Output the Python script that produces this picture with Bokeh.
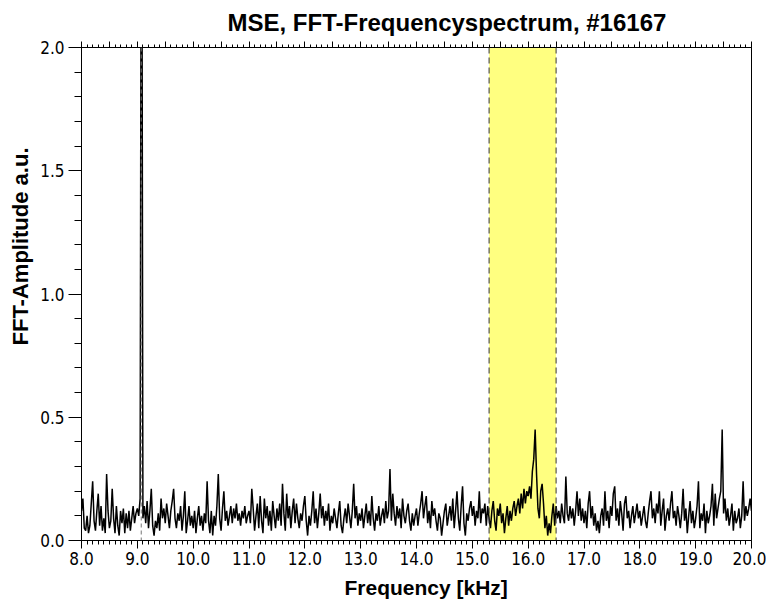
from bokeh.plotting import figure
from bokeh.models import (Range1d, LinearAxis, BoxAnnotation, Span, Title,
                          SingleIntervalTicker, ColumnDataSource)
from bokeh.embed import file_html
from bokeh.resources import INLINE
import numpy as np

# FFT amplitude, one row per kHz (bins of 0.025 kHz); the 9.07 kHz line is off-scale
amp_08 = [0.12,0.17,0.05,0.04,0.10,0.03,0.06,0.15,0.24,0.08,0.04,0.12,0.19,0.06,0.14,0.04,0.09,0.03,0.27,0.12,
          0.05,0.08,0.21,0.09,0.03,0.14,0.06,0.02,0.12,0.07,0.13,0.03,0.11,0.05,0.12,0.04,0.09,0.14,0.07,0.11]
amp_09 = [0.13,0.10,0.17,3.50,0.09,0.14,0.07,0.16,0.05,0.12,0.21,0.06,0.02,0.08,0.05,0.11,0.04,0.17,0.09,0.13,
          0.07,0.15,0.10,0.05,0.12,0.16,0.21,0.09,0.05,0.11,0.08,0.14,0.04,0.10,0.20,0.03,0.08,0.14,0.06,0.10]
amp_10 = [0.05,0.12,0.03,0.09,0.14,0.06,0.10,0.04,0.11,0.07,0.24,0.08,0.03,0.12,0.02,0.10,0.06,0.14,0.27,0.09,
          0.04,0.13,0.20,0.08,0.12,0.06,0.10,0.14,0.07,0.13,0.09,0.15,0.08,0.11,0.06,0.12,0.09,0.14,0.07,0.10]
amp_11 = [0.12,0.07,0.21,0.13,0.04,0.10,0.15,0.05,0.18,0.08,0.03,0.17,0.09,0.14,0.06,0.12,0.04,0.16,0.10,0.05,
          0.13,0.08,0.15,0.06,0.23,0.11,0.04,0.19,0.09,0.14,0.05,0.12,0.17,0.07,0.15,0.09,0.05,0.11,0.08,0.14]
amp_12 = [0.18,0.08,0.02,0.10,0.06,0.12,0.20,0.07,0.13,0.05,0.11,0.19,0.09,0.14,0.06,0.12,0.08,0.15,0.04,0.10,
          0.07,0.13,0.09,0.05,0.11,0.16,0.06,0.03,0.09,0.13,0.07,0.15,0.10,0.05,0.12,0.23,0.09,0.14,0.06,0.11]
amp_13 = [0.08,0.13,0.05,0.10,0.15,0.07,0.12,0.06,0.18,0.09,0.04,0.11,0.08,0.14,0.06,0.10,0.13,0.07,0.16,0.09,
          0.12,0.29,0.08,0.19,0.11,0.06,0.14,0.09,0.13,0.05,0.17,0.10,0.07,0.12,0.15,0.08,0.04,0.11,0.06,0.10]
amp_14 = [0.13,0.06,0.11,0.15,0.20,0.09,0.14,0.18,0.07,0.12,0.05,0.16,0.10,0.13,0.08,0.04,0.11,0.09,0.02,0.07,
          0.12,0.15,0.06,0.10,0.14,0.08,0.17,0.05,0.12,0.20,0.09,0.04,0.14,0.22,0.07,0.02,0.11,0.08,0.13,0.16]
amp_15 = [0.10,0.14,0.06,0.12,0.09,0.20,0.07,0.13,0.11,0.15,0.06,0.14,0.09,0.05,0.12,0.16,0.08,0.04,0.13,0.10,
          0.15,0.07,0.11,0.03,0.09,0.14,0.06,0.12,0.08,0.13,0.16,0.10,0.14,0.17,0.11,0.19,0.13,0.21,0.15,0.20]
amp_16 = [0.18,0.22,0.17,0.28,0.33,0.45,0.27,0.13,0.09,0.20,0.23,0.15,0.05,0.10,0.02,0.07,0.03,0.10,0.15,0.06,
          0.14,0.09,0.12,0.07,0.15,0.10,0.07,0.26,0.11,0.08,0.14,0.09,0.13,0.06,0.12,0.20,0.10,0.17,0.08,0.13]
amp_17 = [0.07,0.12,0.05,0.15,0.20,0.09,0.14,0.06,0.11,0.04,0.08,0.03,0.10,0.13,0.06,0.20,0.08,0.12,0.05,0.14,
          0.10,0.19,0.22,0.08,0.13,0.06,0.16,0.11,0.04,0.15,0.18,0.09,0.12,0.05,0.10,0.14,0.07,0.11,0.15,0.09]
amp_18 = [0.12,0.06,0.10,0.14,0.08,0.05,0.11,0.16,0.20,0.09,0.13,0.07,0.15,0.11,0.20,0.06,0.12,0.17,0.04,0.10,
          0.13,0.08,0.15,0.20,0.09,0.12,0.06,0.14,0.10,0.05,0.11,0.21,0.08,0.13,0.03,0.10,0.16,0.07,0.12,0.05]
amp_19 = [0.09,0.14,0.24,0.05,0.11,0.08,0.15,0.03,0.12,0.07,0.10,0.14,0.23,0.06,0.19,0.09,0.13,0.17,0.20,0.45,
          0.11,0.17,0.08,0.13,0.06,0.10,0.15,0.04,0.12,0.07,0.09,0.13,0.05,0.10,0.24,0.08,0.14,0.10,0.13,0.17]
amp_20 = [0.12]

rows = [amp_08, amp_09, amp_10, amp_11, amp_12, amp_13, amp_14, amp_15,
        amp_16, amp_17, amp_18, amp_19, amp_20]
row_start_khz = [8, 9, 10, 11, 12, 13, 14, 15, 16, 17, 18, 19, 20]

band_khz = [15.3, 16.5]
marker_khz = 9.07
x_ticks = [8, 9, 10, 11, 12, 13, 14, 15, 16, 17, 18, 19, 20]
x_tick_labels = ["8.0", "9.0", "10.0", "11.0", "12.0", "13.0", "14.0", "15.0",
                 "16.0", "17.0", "18.0", "19.0", "20.0"]
y_ticks = [0.0, 0.5, 1.0, 1.5, 2.0]
y_tick_labels = ["0.0", "0.5", "1.0", "1.5", "2.0"]
title_text = "MSE, FFT-Frequencyspectrum, #16167"
x_title = "Frequency [kHz]"
y_title = "FFT-Amplitude a.u."

freq, amp = [], []
for start, row in zip(row_start_khz, rows):
    n = len(row)
    freq.extend(start + np.arange(n) * 0.025)
    amp.extend(row)
src = ColumnDataSource(dict(f=freq, a=amp))

TICK_FONT = "'Liberation Sans Narrow', 'DejaVu Sans Condensed', 'Roboto Condensed', 'Liberation Sans'"
BOLD_FONT = "Liberation Sans"

p = figure(width=766, height=608, output_backend="svg", toolbar_location=None,
           x_range=Range1d(8, 20), y_range=Range1d(0, 2),
           min_border_left=80, min_border_right=15, min_border_top=46, min_border_bottom=68)
p.background_fill_color = "white"
p.border_fill_color = "white"
p.grid.visible = False
p.outline_line_color = "black"
p.outline_line_width = 1

# highlighted band
p.add_layout(BoxAnnotation(left=band_khz[0], right=band_khz[1], fill_color="#ffff80",
                           fill_alpha=1.0, line_color=None, level="underlay"))
for b in band_khz:
    p.add_layout(Span(location=b, dimension="height", line_color="#333333",
                      line_dash="6 4", line_width=1))
p.add_layout(Span(location=marker_khz, dimension="height", line_color="#777777",
                  line_dash="4 3", line_width=1))

p.line("f", "a", source=src, line_color="black", line_width=1.5)

# bottom axis
xa = p.xaxis[0]
xa.ticker = SingleIntervalTicker(interval=1, num_minor_ticks=10)
xa.major_label_overrides = {t: l for t, l in zip(x_ticks, x_tick_labels)}
xa.major_tick_in = 0
xa.major_tick_out = 8
xa.minor_tick_in = 0
xa.minor_tick_out = 4
xa.major_label_text_font = TICK_FONT
xa.major_label_text_font_size = "17px"
xa.major_label_text_color = "black"
xa.major_label_standoff = 3
xa.axis_line_color = "black"

# left axis
ya = p.yaxis[0]
ya.ticker = SingleIntervalTicker(interval=0.5, num_minor_ticks=5)
ya.major_label_overrides = {t: l for t, l in zip(y_ticks, y_tick_labels)}
ya.major_tick_in = 0
ya.major_tick_out = 13
ya.minor_tick_in = 0
ya.minor_tick_out = 7
ya.major_label_text_font = TICK_FONT
ya.major_label_text_font_size = "17px"
ya.major_label_text_color = "black"
ya.major_label_standoff = 4
ya.axis_line_color = "black"

# top axis: ticks only, no labels
ta = LinearAxis(ticker=SingleIntervalTicker(interval=0.5, num_minor_ticks=5),
                major_label_text_color=None, major_label_text_font_size="0px",
                major_tick_in=0, major_tick_out=6, minor_tick_in=0, minor_tick_out=3,
                axis_line_color="black")
p.add_layout(ta, "above")

# title and axis titles
p.title.text = title_text
p.title.align = "left"
p.title.offset = 146
p.title.text_font = BOLD_FONT
p.title.text_font_style = "bold"
p.title.text_font_size = "24px"
p.title.text_color = "black"
p.title.standoff = 12

ylab = Title(text=y_title, align="left", offset=195, text_color="black",
             text_font=BOLD_FONT, text_font_style="bold", text_font_size="22px")
p.add_layout(ylab, "left")

xlab = Title(text=x_title, align="left", offset=263, text_color="black",
             text_font=BOLD_FONT, text_font_style="bold", text_font_size="21px", standoff=12)
p.add_layout(xlab, "below")

open("out.html", "w").write(file_html(p, INLINE))
